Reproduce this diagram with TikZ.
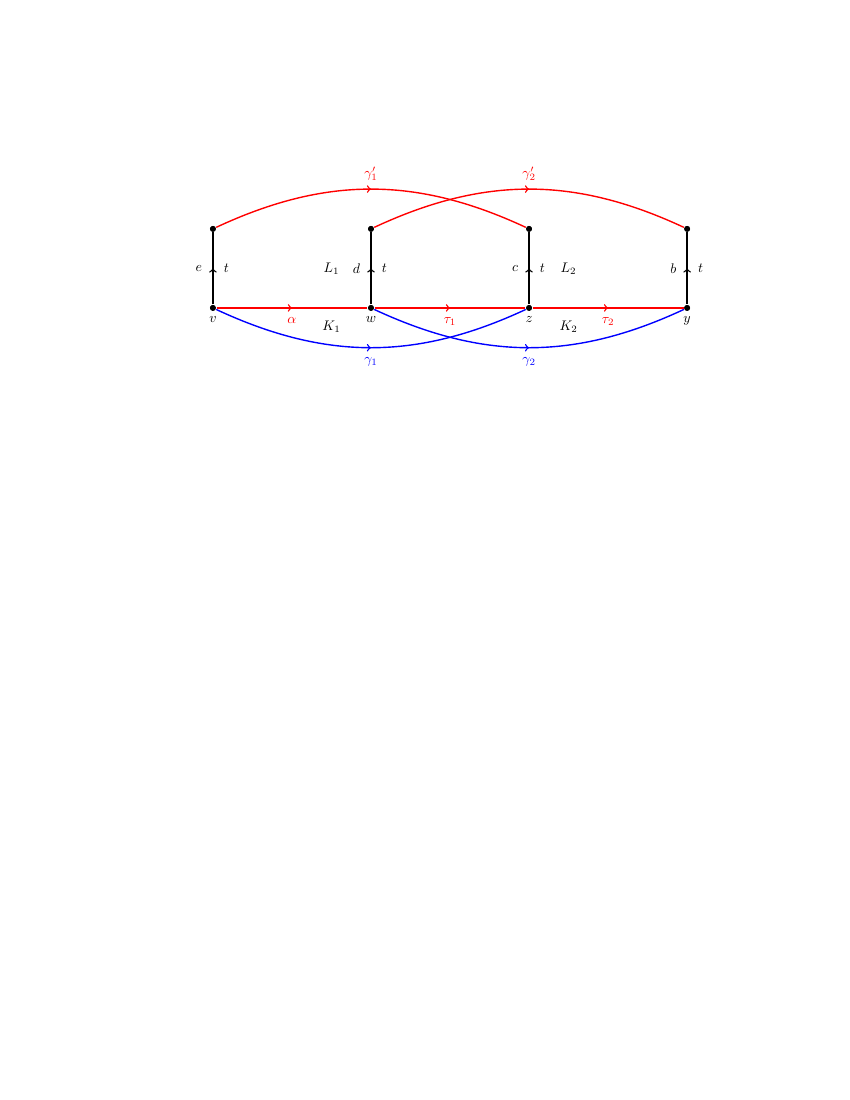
\documentclass[tikz,border=0pt]{standalone}
\usetikzlibrary{decorations.markings}

\tikzset{
  midarrow/.style={postaction={decorate},
    decoration={markings,mark=at position 0.5 with {\arrow{>}}}},
  vdot/.style={circle,fill=black,inner sep=0pt,minimum size=4.2pt},
  vlabel/.style={label distance=2pt},
}

\begin{document}
\begin{tikzpicture}[line width=1pt]
%set page size: picture sits on a letter page
\useasboundingbox (-153.3pt,-570.3pt) rectangle (458.7pt,221.7pt);

%Bottom vertices
\node[vdot,vlabel,label=below:$v$] (v) at (0,0) {};
\node[vdot,vlabel,label=below:$w$] (w) at (4,0) {};
\node[vdot,vlabel,label=below:$z$] (z) at (8,0) {};
\node[vdot,vlabel,label=below:$y$] (y) at (12,0) {};
%Top vertices
\node[vdot] (vt) at (0,2) {};
\node[vdot] (wt) at (4,2) {};
\node[vdot] (zt) at (8,2) {};
\node[vdot] (yt) at (12,2) {};

%Upper arcs
\draw[red,midarrow] (vt) to[bend left=25] node[above=2pt]{$\gamma_1'$} (zt);
\draw[red,midarrow] (wt) to[bend left=25] node[above=2pt]{$\gamma_2'$} (yt);
%Lower arcs
\draw[blue,midarrow] (v) to[bend right=25] node[below=3.5pt]{$\gamma_1$} (z);
\draw[blue,midarrow] (w) to[bend right=25] node[below=3.5pt]{$\gamma_2$} (y);

%Straight Lines
\draw[red,midarrow] (v) -- node[below=3pt]{$\alpha$} (w);
\draw[red,midarrow] (w) -- node[below=3pt]{$\tau_1$} (z);
\draw[red,midarrow] (z) -- node[below=3pt]{$\tau_2$} (y);

%Vertical edges
\draw[midarrow] (v) -- node[left=4pt]{$e$} node[right=4pt]{$t$} (vt);
\draw[midarrow] (w) -- node[left=4pt]{$d$} node[right=4pt]{$t$} (wt);
\draw[midarrow] (z) -- node[left=4pt]{$c$} node[right=4pt]{$t$} (zt);
\draw[midarrow] (y) -- node[left=4pt]{$b$} node[right=4pt]{$t$} (yt);

% Text Node
\node (L1) at (3,1) {$L_1$};
\node (L2) at (9,1) {$L_2$};
\node (K1) at (3,-0.48) {$K_1$};
\node (K2) at (9,-0.48) {$K_2$};

%dots on top
\foreach \p in {v,w,z,y,vt,wt,zt,yt}
  \fill (\p) circle (2.1pt);
\end{tikzpicture}
\end{document}
